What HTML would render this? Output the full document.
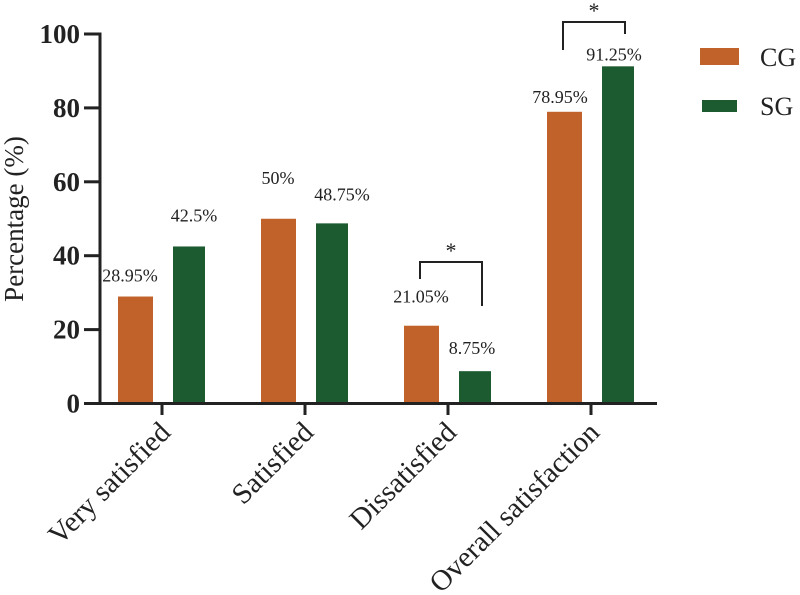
<!DOCTYPE html>
<html><head><meta charset="utf-8"><style>
html,body{margin:0;padding:0;background:#fff;}
svg{display:block;font-family:"Liberation Serif",serif;}
</style></head><body>
<svg id="chart" width="800" height="595" viewBox="0 0 800 595">
<g id="bars"></g>
<g id="labels"></g>
<g id="axes"></g>
<g id="sig"></g>
<g>
  <rect x="700" y="48" width="39" height="17" fill="#c0622a"/>
  <text x="760" y="66" font-size="26" fill="#222">CG</text>
  <rect x="702" y="100" width="35" height="12" fill="#1c5a30"/>
  <text x="760" y="115" font-size="26" fill="#222">SG</text>
</g>
<text transform="translate(23,219) rotate(-90)" text-anchor="middle" font-size="27" fill="#222">Percentage (%)</text>
</svg>
<script>
const categories = ["Very satisfied","Satisfied","Dissatisfied","Overall satisfaction"];
const cgValues = [28.95, 50, 21.05, 78.95];
const sgValues = [42.5, 48.75, 8.75, 91.25];
const cgLabels = ["28.95%","50%","21.05%","78.95%"];
const sgLabels = ["42.5%","48.75%","8.75%","91.25%"];
const yTicks = [0,20,40,60,80,100];

const NS = "http://www.w3.org/2000/svg";
const y0 = 403.5, yTop = 34;
function yScale(v){ return y0 - (y0 - yTop) * v / 100; }
function xCenter(i){ return 162 + i * 143; }
function mk(tag, attrs, parent, txt){
  const e = document.createElementNS(NS, tag);
  for (const k in attrs) e.setAttribute(k, attrs[k]);
  if (txt !== undefined) e.textContent = txt;
  parent.appendChild(e); return e;
}
const bars = document.getElementById('bars');
const labels = document.getElementById('labels');
const axes = document.getElementById('axes');
const sig = document.getElementById('sig');
const cgLabDx = [-32, -27, -27, -31], cgLabDy = [15, 35, 23, 9];
const sgLabDx = [32, 37, 24, 23], sgLabDy = [25, 23, 17, 6];

categories.forEach((c, i) => {
  const cx = xCenter(i);
  const b1 = mk('rect', {x: cx - 44, y: yScale(cgValues[i]), width: 35, height: y0 - yScale(cgValues[i]), fill: '#c0622a'}, bars);
  
  
  const b2 = mk('rect', {x: cx + 11, y: yScale(sgValues[i]), width: 32, height: y0 - yScale(sgValues[i]), fill: '#1c5a30'}, bars);
  
  
  const l1 = mk('text', {x: cx + cgLabDx[i], y: yScale(cgValues[i]) - cgLabDy[i], 'text-anchor': 'middle', 'font-size': 18, fill: '#222'}, labels, cgLabels[i]);
  
  
  const l2 = mk('text', {x: cx + sgLabDx[i], y: yScale(sgValues[i]) - sgLabDy[i], 'text-anchor': 'middle', 'font-size': 18, fill: '#222'}, labels, sgLabels[i]);
  
  
  const t = mk('line', {x1: cx, x2: cx, y1: y0, y2: 415, stroke: '#222', 'stroke-width': 3}, axes);
  
  
  const lab = mk('text', {transform: `translate(${cx + 10},434) rotate(-45)`, 'text-anchor': 'end', 'font-size': 29, fill: '#222'}, axes, c);
  
  
});

const ya = mk('line', {x1: 100, x2: 100, y1: yTop - 1.5, y2: y0 + 1.5, stroke: '#222', 'stroke-width': 3}, axes);


const xa = mk('line', {x1: 84, x2: 657, y1: y0, y2: y0, stroke: '#222', 'stroke-width': 3}, axes);


yTicks.forEach(v => {
  const y = yScale(v);
  const tl = mk('line', {x1: 84, x2: 100, y1: y, y2: y, stroke: '#222', 'stroke-width': 3}, axes);
  
  
  const tx = mk('text', {x: 80, y: y + 9, 'text-anchor': 'end', 'font-size': 27, 'font-weight': 'bold', fill: '#222'}, axes, String(v));
  
  
});

function bracket(i, top, leftBottom, rightBottom, name){
  const cx = xCenter(i);
  const xl = cx - 28, xr = cx + 34;
  const p = mk('path', {d: `M${xl},${leftBottom} V${top} H${xr} V${rightBottom}`, fill: 'none', stroke: '#222', 'stroke-width': 2}, sig);
  
  
  const s = mk('text', {x: (xl + xr) / 2, y: top - 4, 'text-anchor': 'middle', 'font-size': 22, fill: '#222'}, sig, '*');
  
  
}
bracket(2, 262, 279, 306, 'dissatisfied-significance');
bracket(3, 22, 50, 34, 'overall-significance');
</script>
</body></html>
